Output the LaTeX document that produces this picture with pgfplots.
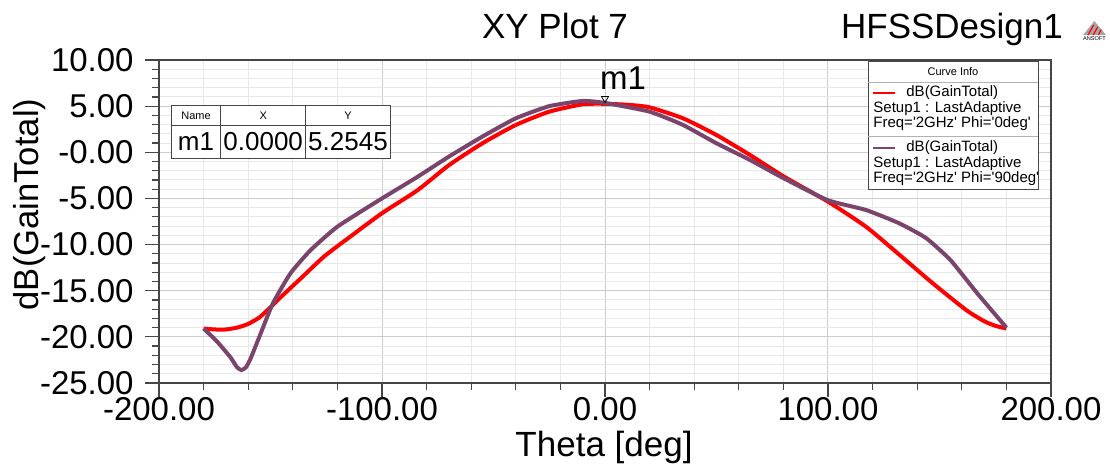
\documentclass[border=0pt]{standalone}
\usepackage{pgfplots}
\pgfplotsset{compat=1.18}
\usepackage{fontspec}
\setmainfont{Liberation Sans}
\definecolor{phired}{RGB}{255,0,0}
\definecolor{phipurple}{RGB}{122,68,108}
\definecolor{axisgray}{RGB}{70,70,70}
\newcommand{\fs}[1]{\fontsize{#1}{#1}\selectfont}
\newcommand{\q}{\textquotesingle}

\begin{document}
\begin{tikzpicture}
\path[use as bounding box] (0,0) rectangle (555pt,233pt);

\begin{axis}[
    at={(79.5pt,41.5pt)}, anchor=south west,
    scale only axis, width=446pt, height=161.5pt,
    xmin=-200, xmax=200, ymin=-25, ymax=10,
    xtick={-200,-100,...,200},
    xticklabels={-200.00,-100.00,0.00,100.00,200.00},
    ytick={-25,-20,...,10},
    yticklabels={-25.00,-20.00,-15.00,-10.00,-5.00,-0.00,5.00,10.00},
    minor x tick num=4, minor y tick num=4,
    tick align=outside, major tick length=7pt, minor tick length=3.5pt,
    tick style={axisgray, line width=0.6pt},
    xtick pos=bottom, ytick pos=left,
    grid=both,
    major grid style={gray!40, line width=0.5pt},
    minor grid style={gray!18, line width=0.5pt},
    axis line style={axisgray, line width=1pt},
    ticklabel style={font=\fs{16.5}},
    yticklabel style={anchor=east, inner sep=0pt, xshift=-5.5pt},
    xticklabel style={anchor=north, inner sep=0pt},
]
% Phi = 0deg
\addplot[phired, line width=2pt, smooth, tension=0.35] coordinates {
 (-180,-19.1) (-175,-19.2) (-170,-19.2) (-165,-19.0) (-160,-18.6) (-155,-17.9)
 (-150,-16.8) (-145,-15.6) (-137,-13.8) (-126,-11.3) (-114,-9.1) (-100,-6.6)
 (-84,-4.1) (-70,-1.4) (-55,0.97) (-40,2.96) (-25,4.4) (-10,5.2) (0,5.2545)
 (10,5.15) (20,4.87) (35,3.68) (50,1.87) (65,-0.29) (80,-2.6) (100,-5.35)
 (117,-8.06) (132,-11.1) (147,-14.2) (162,-17.1) (170,-18.3) (175,-18.8)
 (180,-19.1)
};
% Phi = 90deg
\addplot[phipurple, line width=2pt, smooth, tension=0.3] coordinates {
 (-180,-19.1) (-174,-20.5) (-168,-22.2) (-165,-23.3) (-163,-23.6) (-161,-23.3)
 (-159,-22.4) (-155,-20.0) (-149,-16.4) (-141,-13.1) (-132,-10.6) (-120,-8.06)
 (-100,-5.0) (-85,-2.8) (-70,-0.47) (-55,1.7) (-40,3.68) (-25,5.0) (-10,5.56)
 (0,5.35) (20,4.4) (35,2.96) (50,0.97) (65,-0.83) (80,-2.8) (100,-5.2)
 (117,-6.25) (132,-7.7) (144,-9.3) (155,-11.7) (167,-15.3) (180,-19.0)
};
% marker m1
\addplot[black, line width=0.4pt, only marks, mark=triangle, mark size=2pt,
    mark options={rotate=180, yshift=-2.6pt}] coordinates {(0,5.2545)};
\end{axis}

% titles
\node[anchor=base, font=\fs{17.5}] at (277.5pt,213.5pt) {XY Plot 7};
\node[anchor=base, font=\fs{17.5}] at (476pt,213.5pt) {HFSSDesign1};
\node[anchor=base, font=\fs{17.5}] at (302pt,4.5pt) {Theta [deg]};
\node[rotate=90, font=\fs{17.3}] at (15pt,130.75pt) {dB(GainTotal)};
\node[anchor=base, font=\fs{16.5}] at (311.5pt,188pt) {m1};

% logo
\fill[gray!70] (541.5pt,215.5pt) -- (553pt,215.5pt) -- (547.2pt,222.5pt) -- cycle;
\draw[red, line width=0.6pt] (544pt,215.5pt) -- (546.8pt,220.5pt);
\draw[red, line width=0.6pt] (546.6pt,215.5pt) -- (548.8pt,219.5pt);
\draw[red, line width=0.6pt] (549.2pt,215.5pt) -- (550.6pt,218.2pt);
\node[font=\fs{2.8}, inner sep=0pt] at (547.2pt,213.5pt) {ANSOFT};

% marker table
\fill[white] (85.5pt,153.5pt) rectangle (195pt,180pt);
\draw[axisgray, line width=0.5pt] (85.5pt,153.5pt) rectangle (195pt,180pt);
\draw[axisgray, line width=0.4pt] (85.5pt,170.5pt) -- (195pt,170.5pt)
    (110.35pt,153.5pt) -- (110.35pt,180pt) (152.85pt,153.5pt) -- (152.85pt,180pt);
\node[font=\fs{5.5}] at (98pt,175.25pt) {Name};
\node[font=\fs{5.5}] at (131.6pt,175.25pt) {X};
\node[font=\fs{5.5}] at (174pt,175.25pt) {Y};
\node[font=\fs{13}] at (98pt,162pt) {m1};
\node[font=\fs{13}] at (131.6pt,162pt) {0.0000};
\node[font=\fs{13}] at (174pt,162pt) {5.2545};

% curve info box
\fill[white] (434pt,138pt) rectangle (519pt,202pt);
\draw[axisgray, line width=0.5pt] (434pt,138pt) rectangle (519pt,202pt);
\draw[gray!60, line width=0.4pt] (434pt,192pt) -- (519pt,192pt) (434pt,165pt) -- (519pt,165pt);
\node[font=\fs{5.5}] at (476.5pt,197pt) {Curve Info};
\draw[phired, line width=1pt] (436.5pt,186.65pt) -- (447.5pt,186.65pt);
\draw[phipurple, line width=1pt] (436.5pt,159.2pt) -- (447.5pt,159.2pt);
\begin{scope}[every node/.style={font=\fs{7.5}, inner sep=0pt, anchor=west}]
\node at (453pt,186.65pt) {dB(GainTotal)};
\node at (436.5pt,178.85pt) {Setup1 : LastAdaptive};
\node at (436.5pt,171pt) {Freq=\q2GHz\q{} Phi=\q0deg\q};
\node at (453pt,159.2pt) {dB(GainTotal)};
\node at (436.5pt,151.4pt) {Setup1 : LastAdaptive};
\node at (436.5pt,143.5pt) {Freq=\q2GHz\q{} Phi=\q90deg\q};
\end{scope}
\end{tikzpicture}
\end{document}
